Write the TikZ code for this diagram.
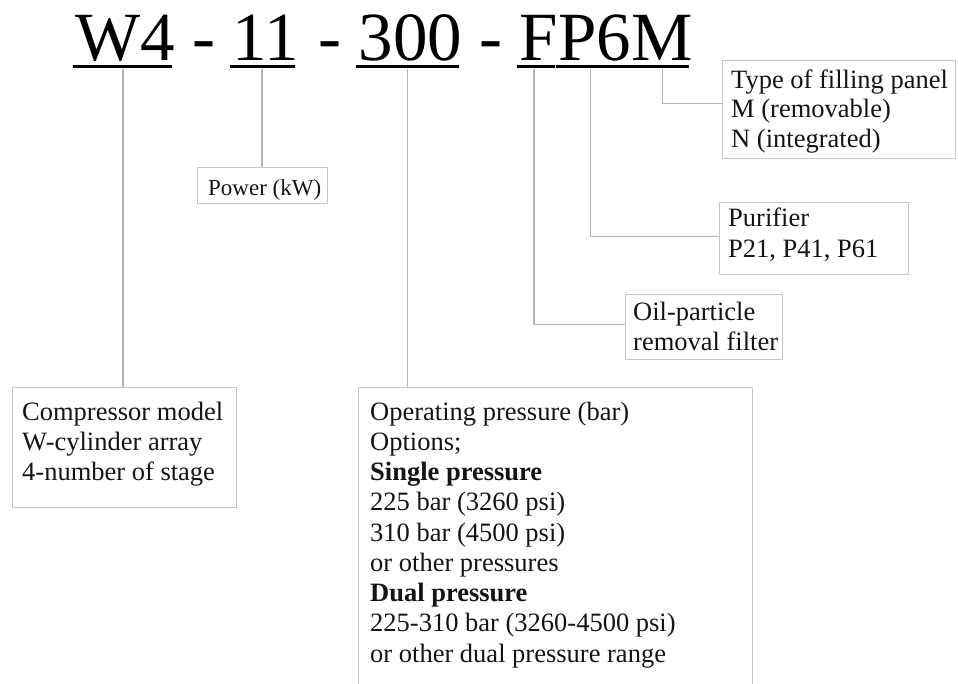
\documentclass[tikz,border=0pt]{standalone}
\usepackage{fontspec}
\setmainfont{Liberation Serif}
\definecolor{linegray}{HTML}{B4B4B4}
\definecolor{boxgray}{HTML}{C6C6C6}
\definecolor{textcol}{HTML}{141414}
\begin{document}
\begin{tikzpicture}[x=1pt,y=-1pt,
  title/.style={inner sep=0pt, anchor=base west, font=\fontsize{69}{69}\selectfont},
  uline/.style={line width=3.5pt, black},
  conn/.style={draw=linegray, line width=1.3pt},
  box/.style={draw=boxgray, line width=1.3pt, inner sep=0pt, anchor=north west},
  txt/.style={inner sep=0pt, anchor=north west, align=left, text=textcol, font=\fontsize{26.5}{30}\selectfont}]
\useasboundingbox (0,0) rectangle (958,683);

% title code
\node[title] (w4) at (75,60) {W4};
\node[title] (d1) at (191.9,60) {-};
\node[title] (n11) at (232.1,60) {11};
\node[title] (d2) at (318.4,60) {-};
\node[title] (n300) at (358.6,60) {300};
\node[title] (d3) at (479.4,60) {-};
\node[title] (nf) at (519.6,60) {F};
\node[title] (np6) at (558,60) {P6};
\node[title] (nm) at (630.8,60) {M};

\foreach \n in {w4,n11,n300,nf,np6,nm}{
  \draw[uline] ([xshift=-2.5pt,yshift=-6.5pt]\n.base west) -- ([xshift=-3.5pt,yshift=-6.5pt]\n.base east);
}

% boxes
\node[box, minimum width=233pt, minimum height=98pt] (tbox) at (722,60) {};
\node[box, minimum width=130pt, minimum height=36pt] (pbox) at (197,167) {};
\node[box, minimum width=189pt, minimum height=72pt] (ubox) at (719,202) {};
\node[box, minimum width=157pt, minimum height=65pt] (fbox) at (625,294) {};
\node[box, minimum width=224pt, minimum height=120pt] (cbox) at (12,387) {};
\node[box, minimum width=394.5pt, minimum height=305pt] (obox) at (357.5,386.7) {};

% texts
\node[txt, font=\fontsize{26.5}{29.5}\selectfont] (ttxt) at (731,68)
  {\rule{0pt}{20pt}Type of filling panel\\M (removable)\\N (integrated)};
\node[txt, font=\fontsize{23}{28}\selectfont] (ptxt) at (208,175) {\rule{0pt}{20pt}Power (kW)};
\node[txt, font=\fontsize{26.5}{31}\selectfont] (utxt) at (728,206.7)
  {\rule{0pt}{20pt}Purifier\\P21, P41, P61};
\node[txt] (ftxt) at (633,300) {\rule{0pt}{20pt}Oil-particle\\removal filter};
\node[txt] (ctxt) at (22,400)
  {\rule{0pt}{20pt}Compressor model\\W-cylinder array\\4-number of stage};
\node[txt, font=\fontsize{26.5}{30.25}\selectfont] (otxt) at (370,400)
  {\rule{0pt}{20pt}Operating pressure (bar)\\Options;\\\textbf{Single pressure}\\225 bar (3260 psi)\\310 bar (4500 psi)\\or other pressures\\\textbf{Dual pressure}\\225-310 bar (3260-4500 psi)\\or other dual pressure range};

% connectors
\coordinate (s1) at ([xshift=-2pt,yshift=-8.5pt]w4.base);
\coordinate (s2) at ([xshift=-3.5pt,yshift=-8.5pt]n11.base);
\coordinate (s3) at ([xshift=-3pt,yshift=-8.5pt]n300.base);
\coordinate (s4) at ([xshift=-5pt,yshift=-8.5pt]nf.base);
\coordinate (s5) at ([xshift=-4pt,yshift=-8.5pt]np6.base);
\coordinate (s6) at ([xshift=1pt,yshift=-8.5pt]nm.base);
\draw[conn] (s1) -- (s1 |- cbox.north);
\draw[conn] (s2) -- (s2 |- pbox.north);
\draw[conn] (s3) -- (s3 |- obox.north);
\draw[conn] (s4) |- ([yshift=3pt]fbox.west);
\draw[conn] (s5) |- ([yshift=2pt]ubox.west);
\draw[conn] (s6) |- ([yshift=6pt]tbox.west);
\end{tikzpicture}
\end{document}
